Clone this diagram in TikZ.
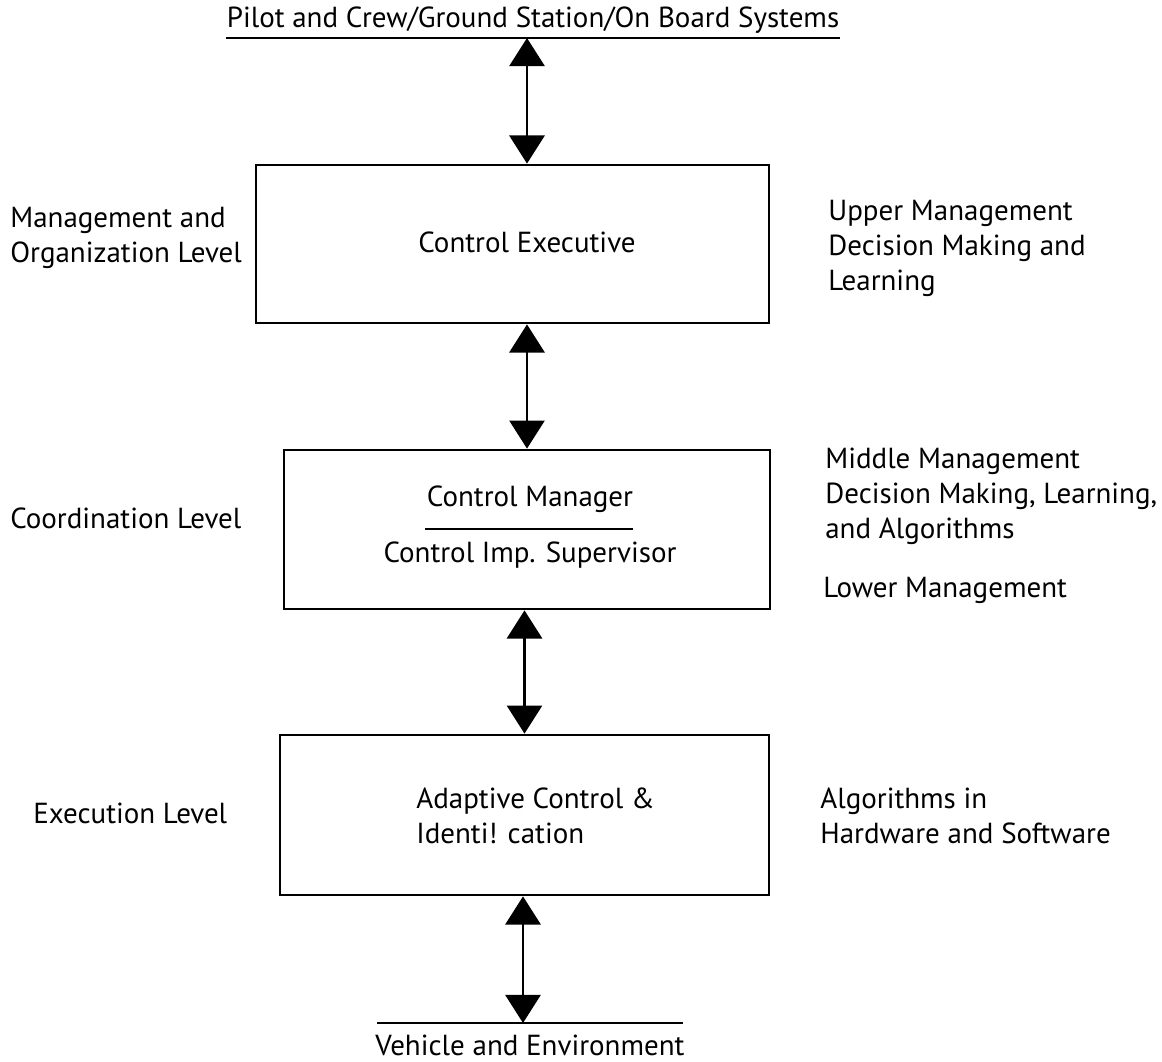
\documentclass[tikz,border=0pt]{standalone}
\usepackage{fontspec}
\setmainfont{PT Sans}
\usetikzlibrary{arrows.meta}
\tikzset{
  every picture/.style={line cap=butt, line join=miter},
  every node/.style={font=\fontsize{16.5}{19.9}\selectfont, inner sep=0pt},
  % Kästen
  box/.style={draw, line width=1.6pt},
  % Doppelpfeile
  dbl/.style={line width=1.4pt, {Triangle[length=16pt,width=20pt]}-{Triangle[length=16pt,width=20pt]}},
  rule/.style={line width=1.2pt},
  lbl/.style={align=left, anchor=west},
}
\begin{document}
\begin{tikzpicture}[x=0.02cm, y=-0.02cm]
  \useasboundingbox (0,0) rectangle (1162,1061);
  % oben
  \node (pilot) at (533,20) {Pilot and Crew/Ground Station/On Board Systems};
  \draw[rule] (226,38) -- (840,38);
  \coordinate (top) at (527,38);
  % Ebenen
  \node[box, minimum width=10.26cm, minimum height=3.16cm] (exec) at (512.5,244) {};
  \node (exectxt) at (527,242) {Control Executive};
  \node[box, minimum width=9.72cm, minimum height=3.18cm] (mgr) at (527,529.5) {};
  \node (mgrtxt) at (530,499) {Control Manager};
  \draw[rule] (425,529) -- (633,529);
  \node (suptxt) at (530,555) {Control Imp. Supervisor};
  \node[box, minimum width=9.78cm, minimum height=3.2cm] (ada) at (524.5,815) {};
  \node[lbl] (adatxt) at (416,816) {Adaptive Control \&\\Identi! cation};
  % unten
  \draw[rule] (377,1023) -- (683,1023);
  \coordinate (bot) at (523,1023);
  \node (veh) at (530,1045) {Vehicle and Environment};
  % Pfeile
  \draw[dbl] (top) -- (top |- exec.north);
  \draw[dbl] (mgr.north |- exec.south) -- (mgr.north);
  \draw[dbl] (ada.north |- mgr.south) -- (ada.north);
  \draw[dbl] (bot |- ada.south) -- (bot);
  % links
  \node[lbl] (mol) at (10,238) {Management and\\Organization Level};
  \node[lbl] (col) at (10,518) {Coordination Level};
  \node[lbl] (exl) at (33,813) {Execution Level};
  % rechts
  \node[lbl] (upper) at (828,248) {Upper Management\\Decision Making and\\Learning};
  \node[lbl] (middle) at (825,496) {Middle Management\\Decision Making, Learning,\\and Algorithms};
  \node[lbl] (lower) at (823,590) {Lower Management};
  \node[lbl] (alg) at (820,816) {Algorithms in\\Hardware and Software};
\end{tikzpicture}
\end{document}
